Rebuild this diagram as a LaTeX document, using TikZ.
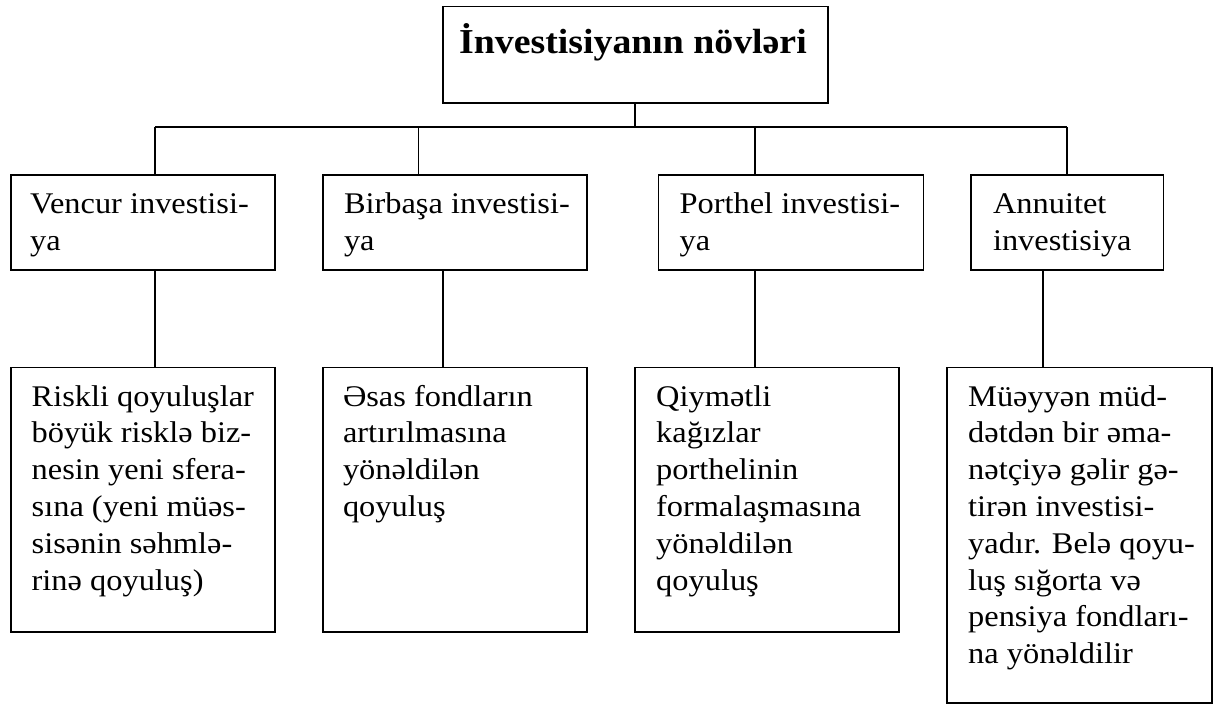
\documentclass[tikz,border=0pt]{standalone}
\usepackage{fontspec}
\setmainfont{Liberation Serif}[FakeStretch=1.08]
\begin{document}
\begin{tikzpicture}[x=1bp,y=-1bp,
  boxframe/.style={draw=black, line width=1.6bp, rectangle, inner sep=0pt, outer sep=0pt, anchor=north west},
  boxtext/.style={anchor=north west, inner sep=0pt, outer sep=0pt, align=left,
    font=\fontsize{30bp}{36.8bp}\selectfont},
  headtext/.style={anchor=base, inner sep=0pt, font=\fontsize{35bp}{40bp}\selectfont\bfseries},
  connector/.style={draw=black, line width=1.6bp}]

\fill[white] (0,0) rectangle (1213,704);
\useasboundingbox (0,0) rectangle (1213,704);

% heading
\node[boxframe, minimum width=385bp, minimum height=96bp] (head) at (442.7,6.7) {};
\node[headtext] (headlbl) at (633,53.3) {İnvestisiyanın növləri};

% first row: kinds of investment
\node[boxframe, minimum width=264.1bp, minimum height=95bp] (a1) at (10.7,175) {};
\node[boxframe, minimum width=264.2bp, minimum height=95bp] (a2) at (323,175) {};
\node[boxframe, minimum width=264.7bp, minimum height=95bp] (a3) at (658.6,175) {};
\node[boxframe, minimum width=192.3bp, minimum height=95bp] (a4) at (971,175) {};

\node[boxtext] (ta1) at ([shift={(19.5,13)}]a1.north west) {\strut Vencur investisi-\\ya};
\node[boxtext] (ta2) at ([shift={(21,13)}]a2.north west) {\strut Birbaşa investisi-\\ya};
\node[boxtext] (ta3) at ([shift={(21,13)}]a3.north west) {\strut Porthel investisi-\\ya};
\node[boxtext] (ta4) at ([shift={(22,13)}]a4.north west) {\strut Annuitet\\investisiya};

% second row: descriptions
\node[boxframe, minimum width=264.1bp, minimum height=264.4bp] (b1) at (10.7,367.3) {};
\node[boxframe, minimum width=264.2bp, minimum height=264.4bp] (b2) at (323,367.3) {};
\node[boxframe, minimum width=263.8bp, minimum height=264.4bp] (b3) at (635.2,367.3) {};
\node[boxframe, minimum width=264.6bp, minimum height=335.4bp] (b4) at (947.2,367.3) {};

\node[boxtext] (tb1) at ([shift={(21,13)}]b1.north west) {\strut Riskli qoyuluşlar\\böyük risklə biz-\\nesin yeni sfera-\\sına (yeni müəs-\\sisənin səhmlə-\\rinə qoyuluş)};
\node[boxtext] (tb2) at ([shift={(20,13)}]b2.north west) {\strut Əsas fondların\\artırılmasına\\yönəldilən\\qoyuluş};
\node[boxtext] (tb3) at ([shift={(21,13)}]b3.north west) {\strut Qiymətli\\kağızlar\\porthelinin\\formalaşmasına\\yönəldilən\\qoyuluş};
\node[boxtext] (tb4) at ([shift={(21,13)}]b4.north west) {\strut Müəyyən müd-\\dətdən bir əma-\\nətçiyə gəlir gə-\\tirən investisi-\\yadır. Belə qoyu-\\luş sığorta və\\pensiya fondları-\\na yönəldilir};

% bus under the heading
\coordinate (d1) at (155,127);
\coordinate (d2) at (418.3,127);
\coordinate (d3) at (755.2,127);
\coordinate (d4) at (1067,127);
\draw[connector] (head.south) -- (head.south |- d1);
\draw[connector] (d1) -- (d4);
\draw[connector] (d1) -- (d1 |- a1.north);
\draw[connector] (d2) -- (d2 |- a2.north);
\draw[connector] (d3) -- (d3 |- a3.north);
\draw[connector] (d4) -- (d4 |- a4.north);

% links between the rows
\coordinate (e1) at (155,320);
\coordinate (e2) at (442.9,320);
\coordinate (e3) at (755.2,320);
\coordinate (e4) at (1043.2,320);
\draw[connector] (e1 |- a1.south) -- (e1 |- b1.north);
\draw[connector] (e2 |- a2.south) -- (e2 |- b2.north);
\draw[connector] (e3 |- a3.south) -- (e3 |- b3.north);
\draw[connector] (e4 |- a4.south) -- (e4 |- b4.north);
\end{tikzpicture}
\end{document}
